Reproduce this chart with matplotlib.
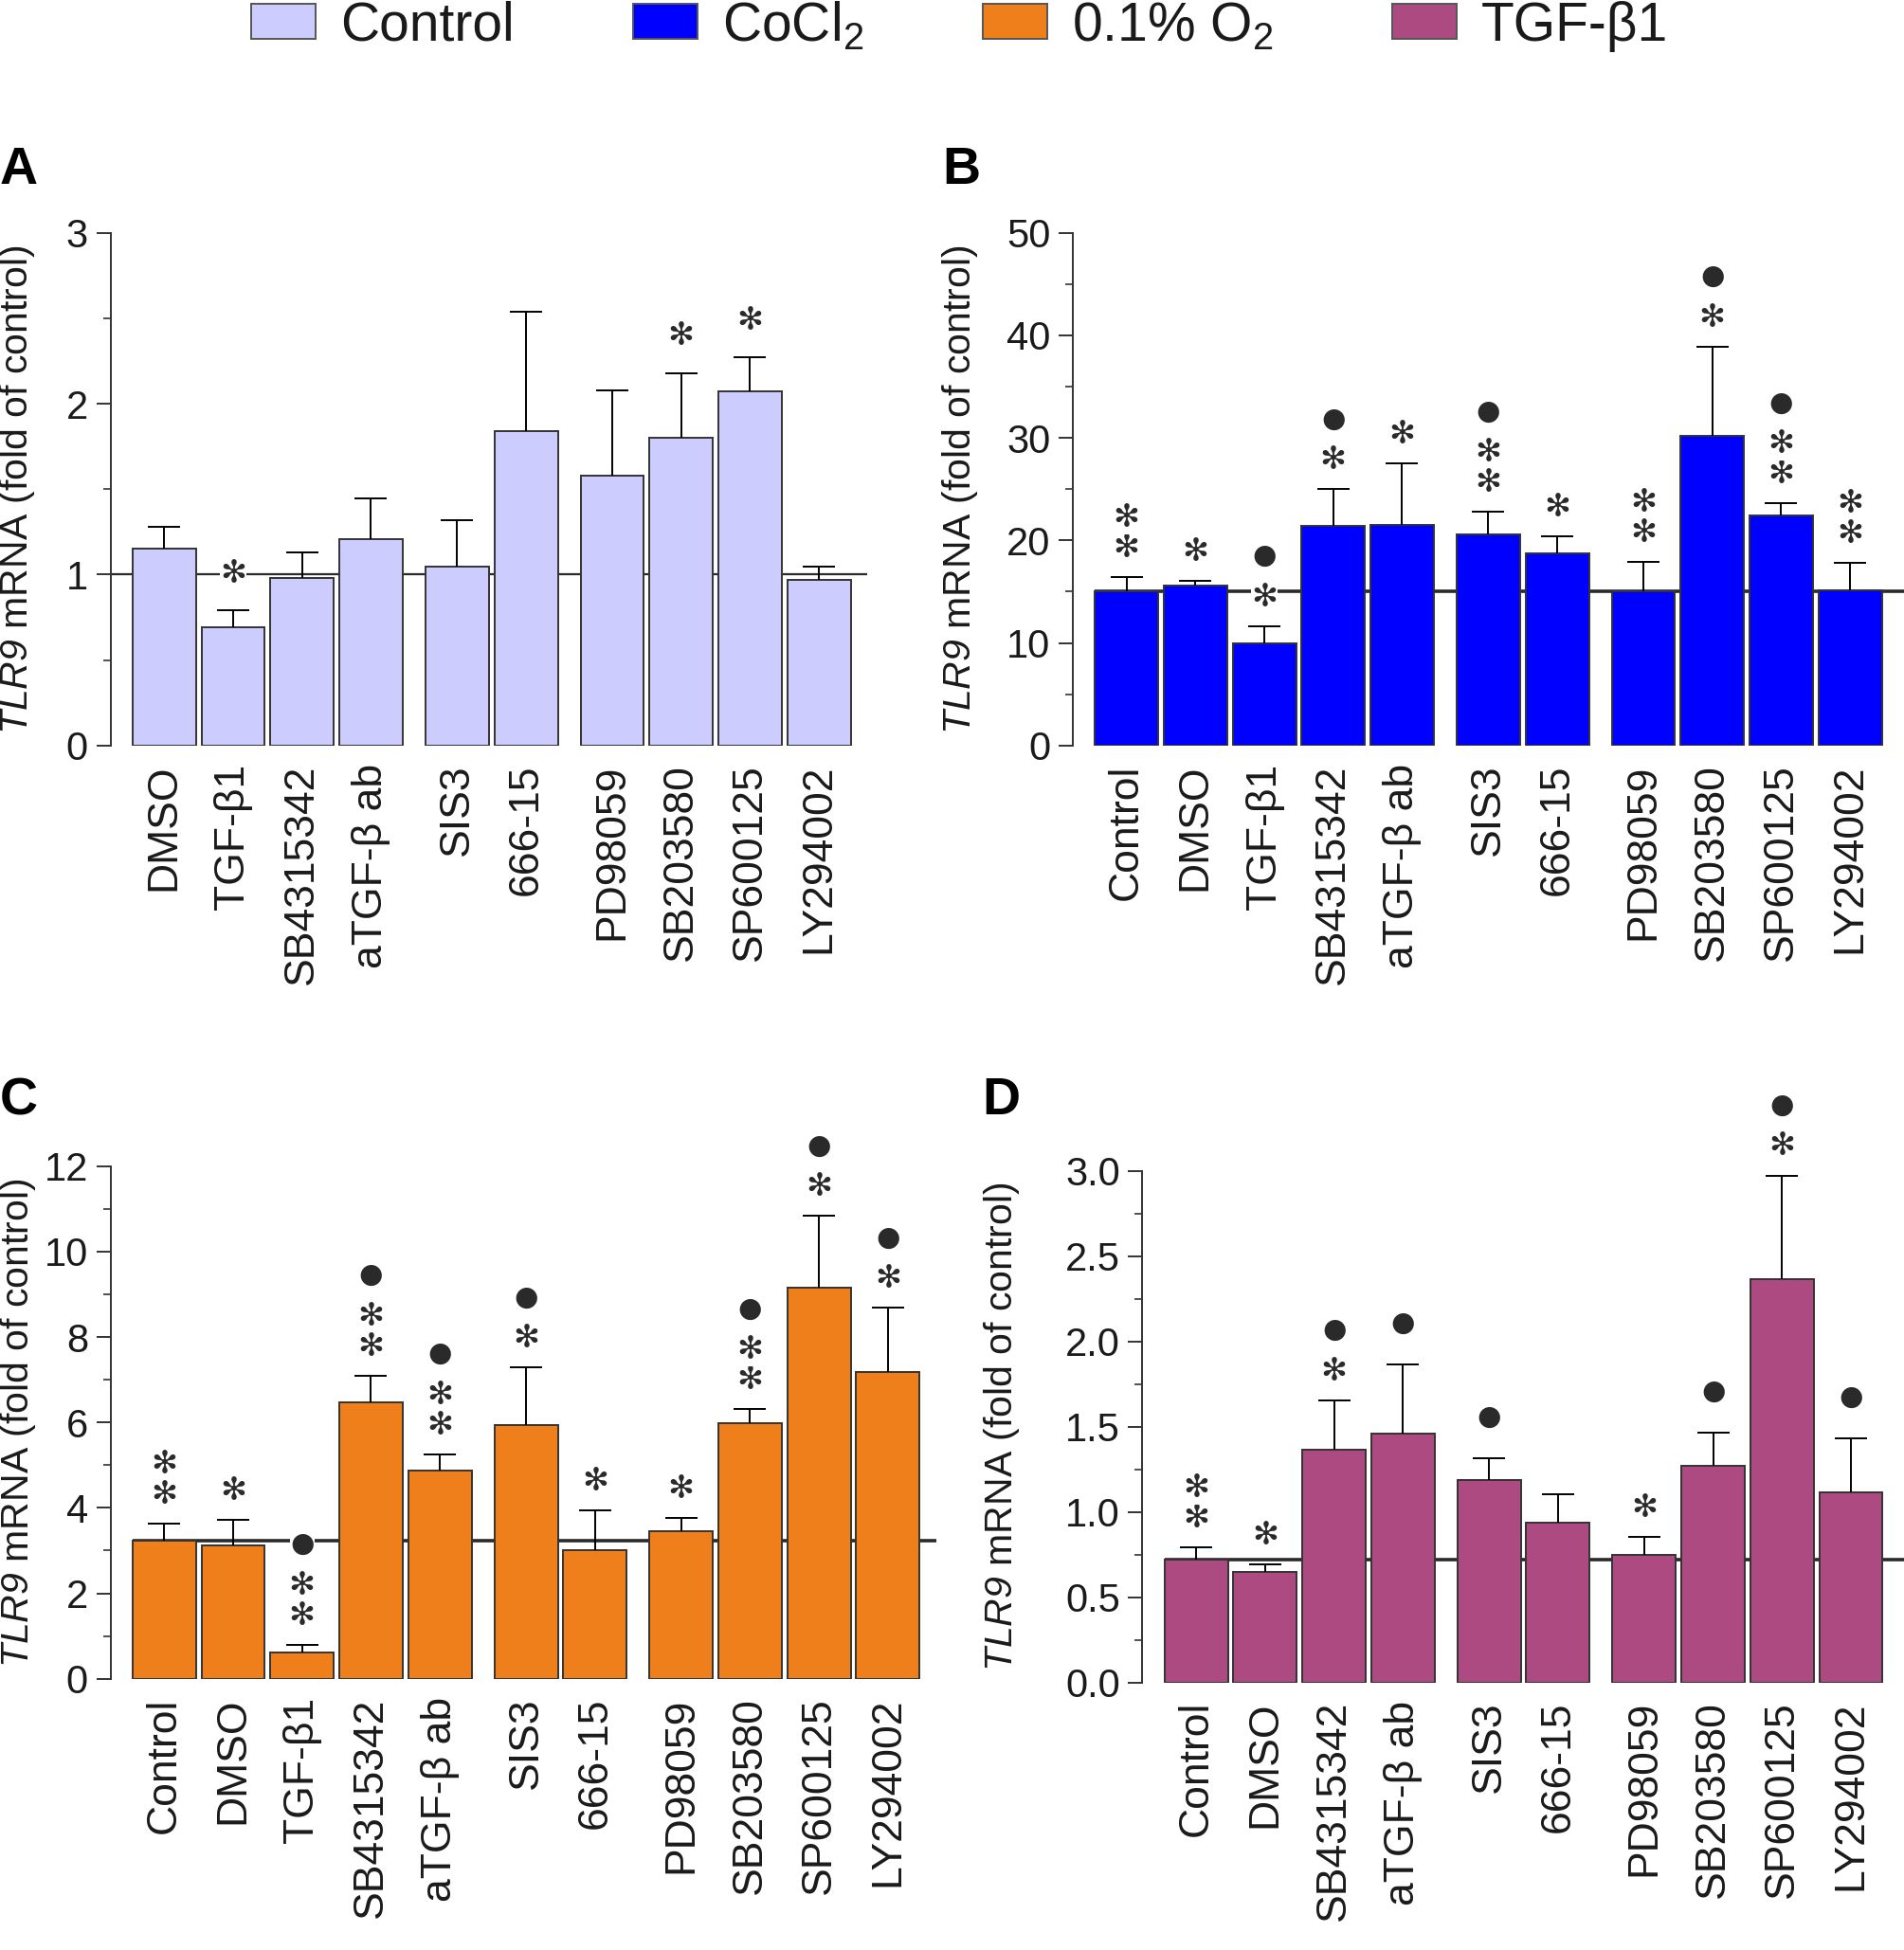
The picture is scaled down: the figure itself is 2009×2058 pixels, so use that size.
import numpy as np
import matplotlib
matplotlib.use("Agg")
import matplotlib.pyplot as plt
from matplotlib.patches import Patch
from matplotlib.ticker import MultipleLocator, FormatStrFormatter
from matplotlib.transforms import blended_transform_factory

plt.rcParams['font.family'] = ['Liberation Sans', 'DejaVu Sans']
plt.rcParams['mathtext.fontset'] = 'custom'
plt.rcParams['mathtext.rm'] = 'Liberation Sans'
plt.rcParams['mathtext.it'] = 'Liberation Sans:italic'
# sf slot used for the gene name so the digit is italic too
plt.rcParams['mathtext.sf'] = 'Liberation Sans:italic'

# ---------------------------------------------------
# Data
# ---------------------------------------------------
labels_a = ["DMSO", "TGF-β1", "SB4315342", "aTGF-β ab", "SIS3", "666-15",
            "PD98059", "SB203580", "SP600125", "LY294002"]
labels_bc = ["Control", "DMSO", "TGF-β1", "SB4315342", "aTGF-β ab", "SIS3",
             "666-15", "PD98059", "SB203580", "SP600125", "LY294002"]
labels_d = ["Control", "DMSO", "SB4315342", "aTGF-β ab", "SIS3", "666-15",
            "PD98059", "SB203580", "SP600125", "LY294002"]

groups_a = [0, 0, 0, 0, 1, 1, 2, 2, 2, 2]
groups_bc = [0, 0, 0, 0, 0, 1, 1, 2, 2, 2, 2]
groups_d = [0, 0, 0, 0, 1, 1, 2, 2, 2, 2]

# A : Control (normoxia)
mean_a = [1.15, 0.69, 0.98, 1.21, 1.045, 1.84, 1.58, 1.80, 2.075, 0.97]
top_a = [1.28, 0.79, 1.13, 1.445, 1.317, 2.54, 2.08, 2.18, 2.27, 1.045]
marks_a = ["", "s", "", "", "", "", "", "s", "s", ""]
ref_a = 1.0

# B : CoCl2
mean_b = [15.0, 15.6, 10.0, 21.4, 21.5, 20.6, 18.7, 15.0, 30.2, 22.45, 15.1]
top_b = [16.4, 16.1, 11.65, 25.0, 27.55, 22.8, 20.4, 17.9, 38.9, 23.6, 17.8]
marks_b = ["ss", "s", "sd", "sd", "s", "ssd", "s", "ss", "sd", "ssd", "ss"]
ref_b = 15.0

# C : 0.1% O2
mean_c = [3.24, 3.12, 0.61, 6.47, 4.87, 5.93, 3.01, 3.46, 5.99, 9.16, 7.18]
top_c = [3.64, 3.73, 0.80, 7.10, 5.26, 7.29, 3.94, 3.77, 6.31, 10.84, 8.68]
marks_c = ["ss", "s", "ssd", "ssd", "ssd", "sd", "s", "s", "ssd", "sd", "sd"]
ref_c = 3.24

# D : TGF-beta1
mean_d = [0.723, 0.647, 1.367, 1.457, 1.185, 0.939, 0.75, 1.268, 2.363, 1.115]
top_d = [0.79, 0.69, 1.656, 1.868, 1.314, 1.102, 0.853, 1.467, 2.974, 1.434]
marks_d = ["ss", "s", "sd", "d", "d", "", "s", "d", "sd", "d"]
ref_d = 0.723

legend_labels = ["Control", "CoCl$_2$", "0.1% O$_2$", "TGF-β1"]
colors = ["#CCCCFF", "#0000FF", "#EF7F1A", "#AD4A81"]

TEXT = "#1a1a1a"
EDGE = "#333333"
BAR_W = 0.92
UNIT = 0.0362  # figure fraction per bar slot


def positions(groups):
    return np.array([i + 0.25 * g for i, g in enumerate(groups)])


def draw_panel(fig, rect, labels, groups, means, tops, marks, ref, color,
               ylim, major, minor, fmt, ylabel_x, ref_from_spine=False,
               ref_lw=2.6, first_off=22):
    ax = fig.add_axes(rect)
    x = positions(groups)
    means = np.array(means)
    tops = np.array(tops)

    xmin = -0.78
    xmax = xmin + rect[2] / UNIT
    ax.set_xlim(xmin, xmax)
    ax.set_ylim(*ylim)

    # reference line (level of the control bar)
    start = xmin if ref_from_spine else x[0] - BAR_W / 2
    ax.hlines(ref, start, xmax, color="#2a2a2a", lw=ref_lw, zorder=1)

    ax.bar(x, means, width=BAR_W, color=color, edgecolor=EDGE,
           linewidth=1.4, zorder=2)

    eb = ax.errorbar(x, means, yerr=[np.zeros(len(means)), tops - means],
                     fmt='none', ecolor='black', elinewidth=1.4,
                     capsize=12, capthick=1.4, zorder=3)
    eb[1][0].set_visible(False)

    # significance marks: s = asterisk, d = dot
    for xi, t, m in zip(x, tops, marks):
        off = 0
        for k, sym in enumerate(m):
            if sym == 's':
                off += first_off if k == 0 else 23
                glyph, fs = "✻", 24
            else:
                off += 31
                glyph, fs = "●", 21
            ax.annotate(glyph, xy=(xi, t), xytext=(0, off),
                        textcoords='offset points', ha='center', va='center',
                        fontsize=fs, color="#2a2a2a", family='DejaVu Sans',
                        annotation_clip=False, zorder=5,
                        bbox=dict(fc='white', ec='none', pad=0.3))

    for side in ['top', 'right', 'bottom']:
        ax.spines[side].set_visible(False)
    ax.spines['left'].set_color(EDGE)
    ax.spines['left'].set_linewidth(1.4)

    ax.yaxis.set_major_locator(MultipleLocator(major))
    ax.yaxis.set_minor_locator(MultipleLocator(minor))
    ax.yaxis.set_major_formatter(FormatStrFormatter(fmt))
    ax.tick_params(axis='y', which='major', length=11, width=1.4,
                   color=EDGE, labelsize=30, labelcolor=TEXT, pad=6)
    ax.tick_params(axis='y', which='minor', length=6, width=1.2, color=EDGE)

    ax.set_xticks(x)
    ax.set_xticklabels(labels, rotation=90, ha='center', va='top')
    ax.tick_params(axis='x', length=0, pad=14, labelsize=32,
                   labelcolor=TEXT)

    ax.set_ylabel(r"$\mathsf{TLR9}$ mRNA (fold of control)", fontsize=29.5,
                  color=TEXT, va='center')
    trans = blended_transform_factory(fig.transFigure, ax.transAxes)
    ax.yaxis.set_label_coords(ylabel_x, 0.5, transform=trans)
    return ax


fig = plt.figure(figsize=(20.09, 20.58), dpi=100)

w_a = (10.2 + 0.78) * UNIT
w_c = (11.2 + 0.78) * UNIT

draw_panel(fig, [0.058, 0.6177, w_a, 0.2629], labels_a, groups_a,
           mean_a, top_a, marks_a, ref_a, colors[0], (0, 3), 1, 0.5, '%d',
           0.009, ref_from_spine=True, ref_lw=1.6, first_off=28)
draw_panel(fig, [0.5634, 0.6177, 1.0 - 0.5634, 0.2629], labels_bc, groups_bc,
           mean_b, top_b, marks_b, ref_b, colors[1], (0, 50), 10, 5, '%d',
           0.504)
draw_panel(fig, [0.058, 0.1391, w_c, 0.2629], labels_bc, groups_bc,
           mean_c, top_c, marks_c, ref_c, colors[2], (0, 12), 2, 1, '%d',
           0.0095)
draw_panel(fig, [0.600, 0.1372, 0.400, 0.2623], labels_d, groups_d,
           mean_d, top_d, marks_d, ref_d, colors[3], (0, 3.0), 0.5, 0.25,
           '%.1f', 0.526)

# panel letters
for letter, px, py in [("A", 0.0, 0.9126), ("B", 0.4948, 0.9126),
                       ("C", 0.0, 0.4352), ("D", 0.516, 0.4352)]:
    fig.text(px, py, letter, fontsize=40, fontweight='bold', color='black',
             ha='left', va='center')

handles = [Patch(facecolor=c, edgecolor='#555555', linewidth=1.4)
           for c in colors]
fig.legend(handles, legend_labels, loc='upper center',
           bbox_to_anchor=(0.504, 1.003), ncol=4, frameon=False,
           fontsize=41, handlelength=1.2, handleheight=0.62,
           handletextpad=0.45, columnspacing=2.2, borderaxespad=0,
           borderpad=0.1, labelcolor=TEXT)

fig.savefig("out.png", dpi=100)
